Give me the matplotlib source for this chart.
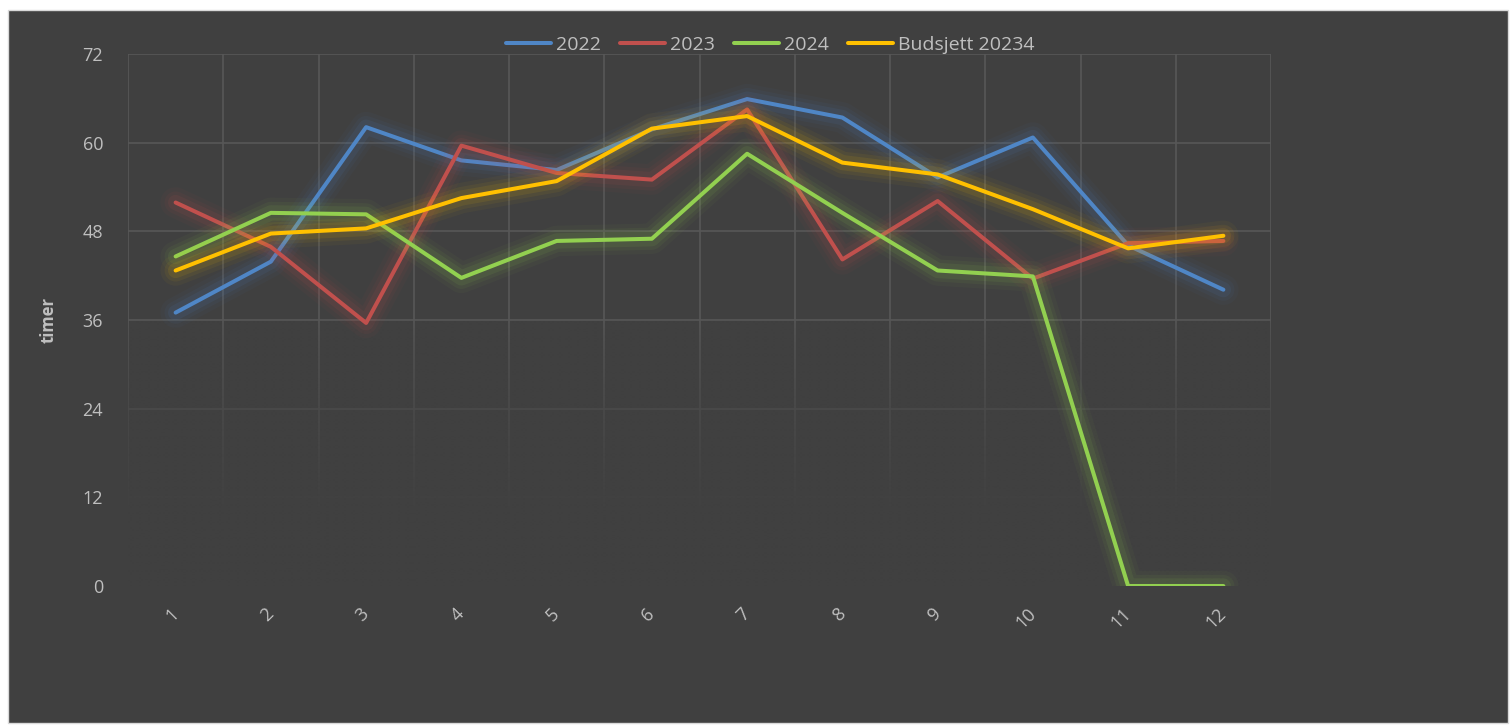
import numpy as np
import matplotlib.pyplot as plt
import matplotlib.patheffects as pe
from matplotlib.patches import Rectangle
from matplotlib.colors import to_rgb

plt.rcParams['font.family'] = ['Open Sans', 'DejaVu Sans']

# monthly values (timer)
months = np.arange(1, 13)
month_labels = [str(m) for m in months]
v2022 = [37.0, 43.9, 62.1, 57.6, 56.3, 61.8, 65.9, 63.4, 55.3, 60.7, 46.1, 40.1]
v2023 = [51.9, 45.9, 35.6, 59.6, 55.9, 55.0, 64.5, 44.2, 52.1, 41.6, 46.4, 46.7]
v2024 = [44.6, 50.5, 50.3, 41.7, 46.7, 47.0, 58.5, 50.5, 42.7, 41.9, 0.0, 0.0]
budsjett = [42.7, 47.7, 48.4, 52.5, 54.8, 61.9, 63.6, 57.3, 55.7, 51.0, 45.7, 47.4]

series = [
    ("2022", v2022, "#4f86c6"),
    ("2023", v2023, "#c0504d"),
    ("2024", v2024, "#92d050"),
    ("Budsjett 20234", budsjett, "#ffc000"),
]

bg = "#404040"
txt = "#bfbfbf"
grid = "#575757"

fig = plt.figure(figsize=(15.1, 7.25), dpi=100, facecolor="white")
frame = Rectangle((8 / 1510, 2 / 725), 1500 / 1510, 713 / 725,
                  transform=fig.transFigure, facecolor=bg,
                  edgecolor="#d9d9d9", linewidth=1, zorder=-10)
fig.add_artist(frame)

ax = fig.add_axes([128 / 1510, 1 - 586 / 725, 1143 / 1510, 532 / 725])
ax.set_zorder(1)
ax.set_facecolor(bg)

ax.grid(True, axis="y", color=grid, lw=1.2, zorder=0.5)
ax.grid(True, axis="x", which="minor", color=grid, lw=1.2, zorder=0.5)
ax.set_axisbelow(True)

# gridlines fade out towards the bottom of the plot
yy = np.linspace(72, 0, 400)
fade = np.clip((36 - yy) / 27, 0, 1) ** 0.7
overlay = np.zeros((400, 2, 4))
overlay[..., :3] = to_rgb(bg)
overlay[..., 3] = fade[:, None]
ax.imshow(overlay, extent=(0.5, 12.5, 0, 72), aspect="auto", zorder=1,
          interpolation="bilinear")

for name, vals, col in series:
    glow = [
        pe.Stroke(linewidth=22, foreground=col, alpha=0.04),
        pe.Stroke(linewidth=16, foreground=col, alpha=0.06),
        pe.Stroke(linewidth=11, foreground=col, alpha=0.09),
        pe.Normal(),
    ]
    ax.plot(months, vals, color=col, lw=2.9, label=name, zorder=2,
            solid_capstyle="round", path_effects=glow)

ax.set_xlim(0.5, 12.5)
ax.set_ylim(0, 72)
ax.set_yticks(np.arange(0, 73, 12))
ax.set_xticks(months)
ax.set_xticklabels(month_labels, rotation=45, ha="right", va="center",
                   rotation_mode="anchor")
ax.set_xticks(np.arange(0.5, 12.6, 1), minor=True)

for s in ax.spines.values():
    s.set_visible(False)

ax.tick_params(axis="both", which="both", length=0, colors=txt, labelsize=13)
ax.tick_params(axis="y", pad=18)
ax.tick_params(axis="x", pad=18)

ax.set_ylabel("timer", color=txt, fontsize=12, fontweight="bold")
ax.yaxis.set_label_coords(-0.062, 0.5)

leg = fig.legend(loc="upper center", bbox_to_anchor=(0.51, 0.975), ncol=4,
                 frameon=False, fontsize=14, handlelength=2.3,
                 columnspacing=1.0, handletextpad=0.25)
for t in leg.get_texts():
    t.set_color(txt)
for h in leg.get_lines():
    h.set_path_effects([])
    h.set_linewidth(2.9)

fig.savefig("out.png", dpi=100, facecolor="white")
